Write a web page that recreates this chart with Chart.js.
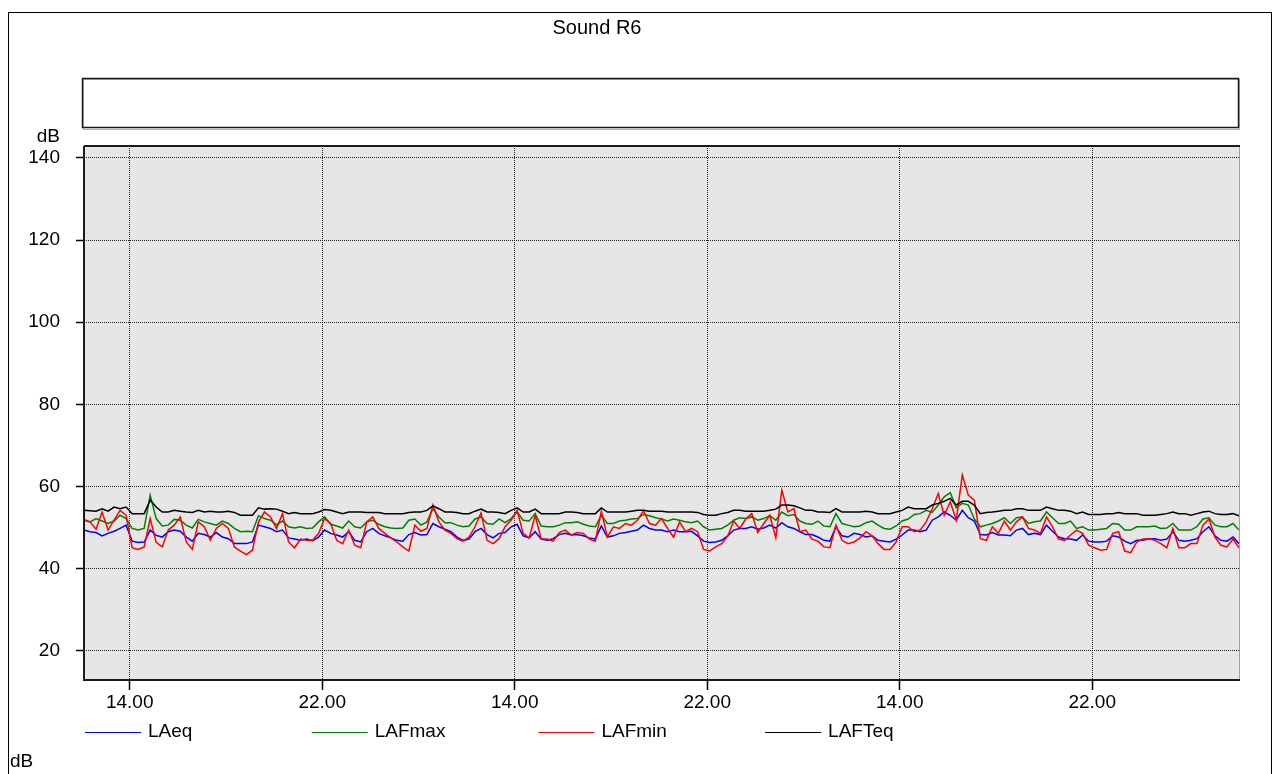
<!DOCTYPE html>
<html><head><meta charset="utf-8">
<style>html,body{margin:0;padding:0;background:#fff;overflow:hidden}canvas{display:block}</style>
<script src="https://cdn.jsdelivr.net/npm/chart.js@4.4.1/dist/chart.umd.min.js"></script>
</head><body>
<canvas id="c" width="1274" height="774"></canvas>
<script>
const chartTitle = 'Sound R6';
const unitLabel = 'dB';
const seriesNames = ['LAeq', 'LAFmax', 'LAFmin', 'LAFTeq'];
const seriesColors = ['#0000ff', '#008000', '#ff0000', '#000000'];
const timeStepHours = 0.25;
const xTickHours = [1.9, 9.9, 17.9, 25.9, 33.9, 41.9];
const xTickLabels = ['14.00', '22.00', '14.00', '22.00', '14.00', '22.00'];
const yTickValues = [20, 40, 60, 80, 100, 120, 140];

const laeq = [
49.4,49.0,48.8,48.0,48.6,49.1,49.8,50.6,46.7,46.4,46.5,49.4,48.1,47.7,49.0,49.4,49.1,47.7,46.7,48.6,48.3,47.7,48.8,47.7,47.3,46.1,46.1,46.1,46.5,50.6,50.2,49.8,49.0,49.4,47.5,47.2,46.9,47.2,46.8,
47.7,49.4,48.6,48.2,47.7,49.0,46.9,46.5,49.0,49.8,48.6,48.0,47.5,46.9,46.7,48.3,48.8,48.2,48.3,51.0,50.2,49.6,49.0,47.7,46.9,47.2,49.0,49.8,48.3,47.5,48.6,48.8,50.2,50.8,48.0,47.5,49.0,47.2,46.9,
47.3,48.3,48.6,48.2,48.3,48.0,47.5,47.2,50.4,47.7,48.0,48.6,48.8,49.1,49.4,50.6,49.8,49.4,49.4,49.0,49.4,49.0,49.0,49.1,48.0,46.7,46.4,46.5,46.9,48.0,49.4,49.8,49.8,50.2,49.6,49.9,50.6,49.9,
51.2,50.2,49.8,49.0,48.3,48.3,47.7,46.9,46.7,50.2,48.0,47.7,48.6,48.3,47.7,48.0,46.9,46.7,46.5,47.2,48.2,49.4,49.4,49.0,49.4,51.8,52.6,53.8,53.0,51.8,54.2,52.4,51.6,48.3,48.2,48.8,48.2,48.2,48.0,
49.4,49.8,48.3,48.6,48.3,50.6,49.1,47.7,47.3,47.2,46.9,48.2,46.7,46.5,46.5,46.7,48.0,47.7,46.7,46.1,46.9,46.9,47.2,47.3,46.9,47.2,49.0,46.9,46.7,46.9,47.3,49.0,50.2,48.0,46.9,46.7,47.7,46.1
];
const lafmax = [
51.8,51.4,52.2,51.6,51.0,51.6,53.0,52.2,49.8,49.4,49.8,57.9,52.2,50.4,50.6,52.0,51.8,50.6,49.9,52.0,51.4,51.0,50.6,51.6,51.0,49.8,49.0,49.1,49.0,52.9,52.2,51.8,50.7,51.6,50.2,49.9,50.2,49.8,49.9,
51.4,52.6,50.8,50.4,49.9,51.6,50.2,49.9,51.4,51.8,50.8,50.2,49.9,49.8,49.9,51.8,52.1,50.6,51.4,54.6,52.6,51.2,51.2,50.6,50.2,50.4,52.1,52.6,51.0,50.8,52.1,51.2,52.2,53.8,51.8,51.6,53.4,50.4,50.2,
50.2,50.6,51.2,51.2,51.4,50.8,50.4,50.2,53.0,51.0,51.0,51.6,51.8,52.1,52.2,53.2,52.9,52.4,52.1,51.6,52.1,51.8,51.4,51.2,51.6,50.2,49.4,49.6,49.8,50.6,51.8,52.4,52.2,52.6,51.8,52.2,52.9,51.8,
53.8,52.9,53.2,51.6,51.0,50.8,51.6,50.4,50.2,53.4,51.0,50.6,50.2,50.4,51.2,51.6,50.6,49.8,49.6,50.4,51.6,52.1,53.2,53.4,54.2,53.7,55.5,57.5,58.5,54.8,55.9,55.5,52.1,50.2,50.6,51.0,51.6,52.4,51.0,
52.4,52.6,51.0,51.4,51.6,53.8,52.4,51.0,51.0,51.6,49.8,50.2,49.4,49.4,49.6,49.8,51.0,50.8,49.4,49.4,50.2,50.2,50.2,50.4,49.8,49.9,51.0,49.4,49.4,49.4,50.2,52.1,52.4,50.6,50.2,50.2,51.0,49.4
];
const lafmin = [
52.0,51.4,49.6,53.8,49.4,51.8,54.2,53.0,45.1,44.7,45.3,52.2,46.4,45.3,49.4,50.6,52.6,46.5,44.7,51.4,50.2,46.9,49.8,51.0,49.8,45.3,44.3,43.4,44.5,51.4,53.8,52.6,49.8,53.4,46.5,45.1,47.2,46.9,46.9,
48.6,52.2,51.0,46.9,46.1,49.4,45.7,45.1,51.4,52.6,49.8,48.6,47.5,46.5,45.3,44.3,50.6,49.1,49.8,55.5,51.4,49.4,48.6,47.3,46.7,47.7,50.2,53.6,46.9,46.1,47.3,50.2,51.8,54.2,48.6,47.5,53.0,47.2,47.2,
46.7,48.8,49.4,48.2,48.8,48.6,47.2,46.7,54.0,47.7,50.2,49.8,51.0,50.6,51.8,54.1,51.0,50.6,52.2,49.8,47.7,51.4,49.0,49.8,49.0,44.7,44.3,45.3,46.1,47.9,51.6,49.8,52.1,53.4,48.8,51.0,53.0,47.5,
59.1,53.8,54.6,49.0,49.4,47.2,46.7,45.3,45.1,50.6,46.9,46.1,46.5,47.5,49.0,48.0,46.1,44.7,44.7,46.5,50.2,50.2,49.0,49.4,51.4,54.6,58.3,53.0,56.3,51.8,62.8,57.9,56.7,47.3,46.9,50.2,48.6,51.6,49.4,
51.4,52.6,49.8,49.4,48.6,52.6,50.2,47.2,46.9,48.2,49.4,48.6,45.7,45.1,44.5,44.7,48.6,49.0,44.3,43.9,46.5,47.2,47.3,46.9,46.1,45.1,49.8,45.1,45.1,46.1,46.1,50.6,52.1,47.7,45.7,45.3,47.2,45.1
];
const lafteq = [
54.2,54.1,54.0,54.6,54.0,55.0,54.6,55.0,53.4,53.4,53.4,56.7,55.0,53.8,53.8,54.2,54.0,53.8,53.7,54.2,53.8,54.0,53.8,53.8,54.0,53.7,53.0,53.0,53.0,54.8,54.5,54.6,54.5,54.0,53.4,53.7,53.4,53.4,53.4,
53.8,54.4,54.2,53.8,53.4,53.8,53.8,53.8,53.7,53.7,53.7,53.4,53.4,53.4,53.4,53.7,53.8,53.8,54.2,55.3,54.6,53.8,53.8,53.7,53.4,53.4,54.0,54.5,53.8,53.8,53.7,53.4,54.2,54.8,53.8,53.8,54.5,53.4,53.4,
53.4,53.4,53.8,53.8,53.7,53.4,53.4,53.4,54.8,53.8,53.8,53.8,53.8,54.0,54.2,54.2,54.0,54.0,54.0,53.8,53.8,53.8,53.8,53.8,53.7,53.2,53.0,53.0,53.4,53.7,54.2,54.2,54.0,54.0,54.0,54.0,54.2,54.5,
55.5,55.5,55.3,54.8,54.2,54.2,53.8,53.8,53.7,54.6,53.8,53.8,53.8,53.8,54.0,53.8,53.4,53.4,53.4,53.8,54.2,55.0,54.6,54.6,54.6,55.5,55.9,56.4,57.1,55.5,56.4,56.4,55.5,53.4,53.7,53.8,54.0,54.2,54.2,
54.6,54.6,54.2,54.2,54.2,55.0,54.6,54.2,54.2,54.0,53.4,53.8,53.2,53.2,53.2,53.4,53.4,53.7,53.4,53.4,53.4,53.0,53.0,53.0,53.2,53.4,53.8,53.4,53.4,53.0,53.4,53.8,54.0,53.4,53.2,53.2,53.4,52.9
];

const FONT = "'Liberation Sans', Arial, sans-serif";
const seriesValues = [laeq, lafmax, lafmin, lafteq];
const drawOrder = [3, 2, 1, 0];

const datasets = seriesNames.map((name, i) => ({
  label: name,
  data: seriesValues[i].map((v, k) => ({ x: k * timeStepHours, y: v })),
  borderColor: seriesColors[i],
  backgroundColor: seriesColors[i],
  borderWidth: 1.5,
  pointRadius: 0,
  tension: 0,
  fill: false,
  order: drawOrder[i]
}));

const decor = {
  id: 'decor',
  beforeDraw(chart) {
    const ctx = chart.ctx, a = chart.chartArea;
    ctx.save();
    ctx.fillStyle = '#fff';
    ctx.fillRect(0, 0, chart.width, chart.height);
    ctx.strokeStyle = '#000'; ctx.lineWidth = 1;
    ctx.strokeRect(8.5, 12.5, 1263, 800);
    ctx.fillStyle = '#000';
    ctx.font = '20px ' + FONT;
    ctx.textAlign = 'center'; ctx.textBaseline = 'middle';
    ctx.fillText(chartTitle, 597, 28);
    ctx.strokeStyle = '#b0b0b0'; ctx.lineWidth = 1;
    ctx.strokeRect(83.5, 79.5, 1156, 50);
    ctx.strokeStyle = '#1a1a1a'; ctx.lineWidth = 1.5;
    ctx.strokeRect(82.5, 78.5, 1156, 49);
    ctx.fillStyle = '#e6e6e6';
    ctx.fillRect(a.left, a.top, a.right - a.left, a.bottom - a.top);
    ctx.fillStyle = '#000';
    ctx.font = '19px ' + FONT;
    ctx.textAlign = 'right'; ctx.textBaseline = 'middle';
    ctx.fillText(unitLabel, 60, 137);
    ctx.textAlign = 'left';
    ctx.fillText(unitLabel, 10, 762);
    seriesNames.forEach((name, i) => {
      const lx = 85 + i * 226.7;
      ctx.strokeStyle = seriesColors[i]; ctx.lineWidth = 1.2;
      ctx.beginPath(); ctx.moveTo(lx, 732.5); ctx.lineTo(lx + 56, 732.5); ctx.stroke();
      ctx.fillStyle = '#000';
      ctx.textAlign = 'left'; ctx.textBaseline = 'middle';
      ctx.fillText(name, lx + 63, 732);
    });
    ctx.restore();
  },
  afterDraw(chart) {
    const ctx = chart.ctx, a = chart.chartArea;
    ctx.save();
    ctx.strokeStyle = '#a0a0a0'; ctx.lineWidth = 1;
    ctx.beginPath(); ctx.moveTo(a.right + 0.5, a.top); ctx.lineTo(a.right + 0.5, a.bottom); ctx.stroke();
    ctx.strokeStyle = '#1a1a1a'; ctx.lineWidth = 2;
    ctx.beginPath();
    ctx.moveTo(a.left, a.top); ctx.lineTo(a.right + 1, a.top);
    ctx.moveTo(a.left, a.top); ctx.lineTo(a.left, a.bottom);
    ctx.lineTo(a.right + 1, a.bottom);
    ctx.stroke();
    ctx.restore();
  }
};

new Chart(document.getElementById('c'), {
  type: 'line',
  data: { datasets },
  plugins: [decor],
  options: {
    responsive: false,
    animation: false,
    devicePixelRatio: 1,
    layout: { padding: { left: 0, top: 146, right: 35, bottom: 64 } },
    plugins: { legend: { display: false }, title: { display: false }, tooltip: { enabled: false } },
    scales: {
      x: {
        type: 'linear', min: 0, max: 48,
        afterBuildTicks(s) { s.ticks = xTickHours.map(v => ({ value: v })); },
        afterFit(s) { s.height = 30; },
        ticks: { callback: (v, i) => xTickLabels[i], font: { family: FONT, size: 19 }, color: '#000', padding: 1, maxRotation: 0, autoSkip: false },
        grid: { color: '#222', lineWidth: 1, tickLength: 10, tickColor: '#000', tickWidth: 1.5, tickBorderDash: [] },
        border: { display: false, dash: [1, 1] }
      },
      y: {
        type: 'linear', min: 12.9, max: 142.9,
        afterBuildTicks(s) { s.ticks = yTickValues.map(v => ({ value: v })); },
        afterFit(s) { s.width = 84; },
        ticks: { font: { family: FONT, size: 19 }, color: '#000', padding: 16, autoSkip: false },
        grid: { color: '#222', lineWidth: 1, tickLength: 8, tickColor: '#000', tickWidth: 1.5, tickBorderDash: [] },
        border: { display: false, dash: [1, 1] }
      }
    }
  }
});
</script>
</body></html>
